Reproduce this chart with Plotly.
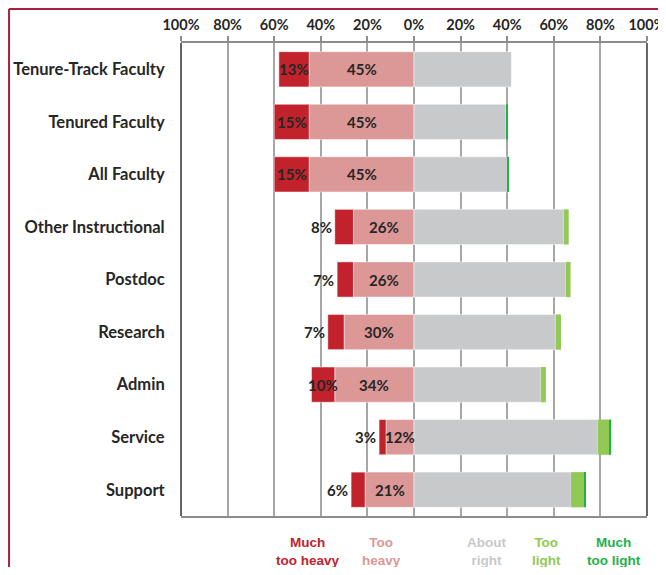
import plotly.graph_objects as go

categories = ["Tenure-Track Faculty", "Tenured Faculty", "All Faculty", "Other Instructional",
              "Postdoc", "Research", "Admin", "Service", "Support"]
much_too_heavy = [13, 15, 15, 8, 7, 7, 10, 3, 6]
too_heavy = [45, 45, 45, 26, 26, 30, 34, 12, 21]
about_right = [41.8, 39.5, 40.2, 64.4, 65.2, 60.8, 54.4, 78.8, 67.4]
too_light = [0, 0, 0, 2.0, 2.0, 2.3, 2.2, 5.3, 5.7]
much_too_light = [0, 0.6, 0.4, 0, 0, 0, 0, 0.5, 0.7]

tick_vals = [-100, -80, -60, -40, -20, 0, 20, 40, 60, 80, 100]
tick_text = ["100%", "80%", "60%", "40%", "20%", "0%", "20%", "40%", "60%", "80%", "100%"]

legend_names = ["Much<br>too heavy", "Too<br>heavy", "About<br>right", "Too<br>light", "Much<br>too light"]
colors = ["#C1222B", "#DC9797", "#C8C9CB", "#92C954", "#1FB24A"]
legend_text_colors = ["#C1222B", "#DC9797", "#C8C9CB", "#92C954", "#1FB24A"]
legend_x = [-45.5, -14, 31, 57, 86]

fig = go.Figure()
line = dict(color="rgba(255,255,255,0.5)", width=1)
fig.add_trace(go.Bar(y=categories, x=[-v for v in too_heavy], orientation="h",
                     marker=dict(color=colors[1], line=line), hoverinfo="skip"))
fig.add_trace(go.Bar(y=categories, x=[-v for v in much_too_heavy], orientation="h",
                     marker=dict(color=colors[0], line=line), hoverinfo="skip"))
fig.add_trace(go.Bar(y=categories, x=about_right, orientation="h",
                     marker=dict(color=colors[2], line=line), hoverinfo="skip"))
fig.add_trace(go.Bar(y=categories, x=too_light, orientation="h",
                     marker=dict(color=colors[3], line=dict(width=0)), hoverinfo="skip"))
fig.add_trace(go.Bar(y=categories, x=much_too_light, orientation="h",
                     marker=dict(color=colors[4], line=dict(width=0)), hoverinfo="skip"))

label_font = dict(family="Lato", size=15, color="#262626", weight="bold")
annotations = []
for cat, mh, th in zip(categories, much_too_heavy, too_heavy):
    annotations.append(dict(x=-th / 2, y=cat, xref="x", yref="y", text=f"{th}%",
                            showarrow=False, font=label_font))
    if mh >= 10:
        annotations.append(dict(x=-(th + mh / 2), y=cat, xref="x", yref="y", text=f"{mh}%",
                                showarrow=False, font=label_font))
    else:
        annotations.append(dict(x=-(th + mh), y=cat, xref="x", yref="y", text=f"{mh}%",
                                showarrow=False, xanchor="right", xshift=-1, font=label_font))

for name, lx, col in zip(legend_names, legend_x, legend_text_colors):
    annotations.append(dict(x=lx, y=-0.074, xref="x", yref="paper", text=name, showarrow=False,
                            align="center", yanchor="middle",
                            font=dict(family="Liberation Sans", size=13.5, color=col, weight="bold")))

shapes = [
    dict(type="line", xref="paper", yref="paper", x0=-0.369, x1=-0.369, y0=-0.2, y1=1.072,
         line=dict(color="#A8203F", width=2)),
    dict(type="line", xref="paper", yref="paper", x0=-0.369, x1=1.1, y0=1.072, y1=1.072,
         line=dict(color="#A8203F", width=2)),
    dict(type="line", xref="paper", yref="paper", x0=0, x1=0, y0=0, y1=1,
         line=dict(color="#333333", width=1.5)),
    dict(type="line", xref="paper", yref="paper", x0=1, x1=1, y0=0, y1=1,
         line=dict(color="#333333", width=1.5)),
]

fig.update_layout(
    width=666, height=559,
    margin=dict(l=173, r=27, t=35, b=51),
    barmode="relative", bargap=0.33,
    showlegend=False,
    plot_bgcolor="white", paper_bgcolor="white",
    annotations=annotations, shapes=shapes,
    xaxis=dict(range=[-100, 100], side="top", tickvals=tick_vals, ticktext=tick_text,
               showgrid=True, gridcolor="#A6A6A6", gridwidth=1.5, zeroline=False,
               showline=True, linecolor="#8C8C8C", linewidth=2, mirror=True,
               ticks="outside", ticklen=5, tickcolor="#8C8C8C", tickwidth=1.5,
               tickfont=dict(family="Lato", size=14.5, color="#262626", weight="bold"),
               fixedrange=True, automargin=False),
    yaxis=dict(autorange="reversed", showgrid=False, zeroline=False,
               ticks="outside", ticklen=12, tickcolor="rgba(0,0,0,0)",
               tickfont=dict(family="Lato", size=16.5, color="#262626", weight="bold"),
               fixedrange=True, automargin=False),
)

fig.write_html("out.html")
